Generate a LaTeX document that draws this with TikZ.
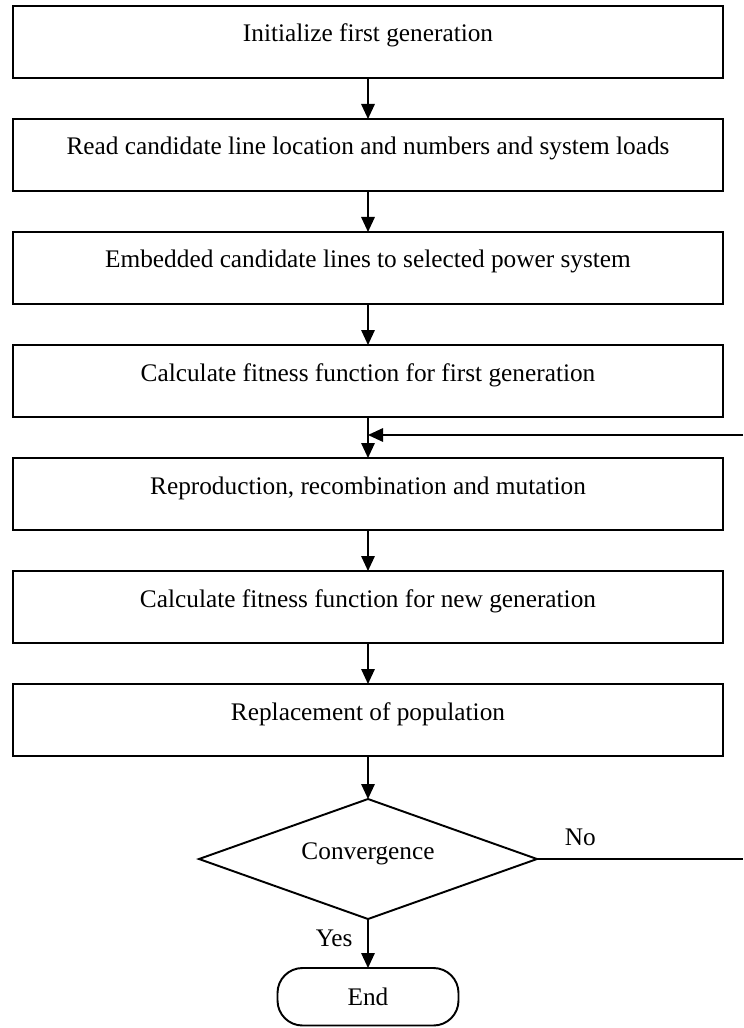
\documentclass[tikz,border=0pt]{standalone}
\usepackage{fontspec}
\setmainfont{Liberation Serif}
\usetikzlibrary{positioning,shapes.geometric,arrows.meta}

\begin{document}
\begin{tikzpicture}[
  font=\fontsize{14.4}{17}\selectfont,
  node distance=0.82cm,
  procbox/.style={draw,line width=1.1pt,minimum width=14.2cm,minimum height=1.44cm,
    text height=0.35cm,text depth=0.35cm,inner sep=0pt,outer sep=0pt},
  decide/.style={draw,diamond,line width=1.1pt,aspect=2.8,minimum width=6.76cm,
    minimum height=2.4cm,text height=0.35cm,text depth=0.35cm,inner sep=0pt,outer sep=0pt},
  stopbox/.style={draw,line width=1.1pt,rounded corners=0.5cm,minimum width=3.62cm,
    minimum height=1.15cm,outer sep=0pt},
  flow/.style={line width=0.9pt,-{Triangle[length=0.3cm,width=0.27cm]}}
]
  \useasboundingbox (0,0) rectangle (14.86,-20.56);

  % Steps
  \node[procbox] (init) at (7.36,-0.84) {Initialize first generation};
  \node[procbox,below=of init] (read) {Read candidate line location and numbers and system loads};
  \node[procbox,below=of read] (embed) {Embedded candidate lines to selected power system};
  \node[procbox,below=of embed] (fitfirst) {Calculate fitness function for first generation};
  \node[procbox,below=of fitfirst] (repro) {Reproduction, recombination and mutation};
  \node[procbox,below=of repro] (fitnew) {Calculate fitness function for new generation};
  \node[procbox,below=of fitnew] (replace) {Replacement of population};
  \node[decide,below=0.86cm of replace] (conv) {Convergence};
  \node[stopbox,below=0.98cm of conv] (stop) {End};

  % Loop ends at the page edge
  \coordinate (rightedge) at (14.86,0);
  \coordinate (fbstart) at (14.86,-8.70);
  \coordinate (fbjoin) at (fitfirst.south |- fbstart);
  \coordinate (noend) at (conv.east -| rightedge);

  % Arrows
  \draw[flow] (init) -- (read);
  \draw[flow] (read) -- (embed);
  \draw[flow] (embed) -- (fitfirst);
  \draw[flow] (fitfirst) -- (repro);
  \draw[flow] (fbstart) -- (fbjoin);
  \draw[flow] (repro) -- (fitnew);
  \draw[flow] (fitnew) -- (replace);
  \draw[flow] (replace) -- (conv);
  \draw[flow] (conv) -- node[left=5pt,pos=0.4] {Yes} (stop);
  \draw[line width=0.9pt] (conv.east) -- node[above=4pt,pos=0.21] {No} (noend);
\end{tikzpicture}
\end{document}
